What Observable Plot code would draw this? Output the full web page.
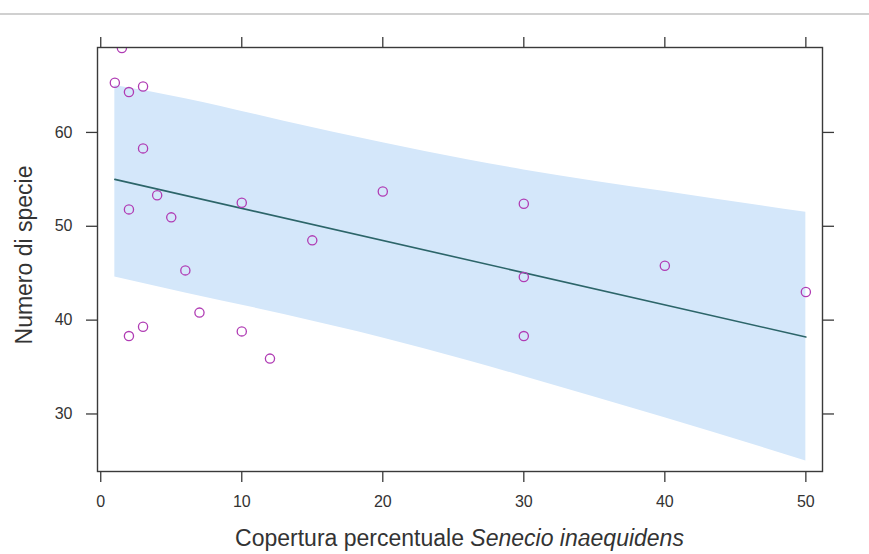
<!DOCTYPE html>
<html>
<head>
<meta charset="utf-8">
<script src="https://cdn.jsdelivr.net/npm/d3@7"></script>
<script src="https://cdn.jsdelivr.net/npm/@observablehq/plot@0.6"></script>
<style>
  html, body { margin: 0; padding: 0; background: #fff; }
  #wrap { position: relative; width: 869px; height: 554px; overflow: hidden; }
  #rule { position: absolute; left: 0; right: 0; top: 13px; height: 2px; background: #d0d0d0; }
  svg { font-family: "Liberation Sans", Arial, sans-serif; }
</style>
</head>
<body>
<div id="wrap"><div id="rule"></div></div>
<script>
// Observed points: percent cover of Senecio inaequidens vs number of species
const coverX = [1, 1.5, 2, 3, 3, 2, 4, 5, 6, 7, 3, 2, 10, 10, 12, 15, 20, 30, 30, 30, 40, 50];
const speciesY = [65.3, 69.0, 64.3, 64.9, 58.3, 51.8, 53.3, 50.95, 45.3, 40.8, 39.3, 38.3, 52.5, 38.8, 35.9, 48.5, 53.7, 52.4, 44.6, 38.3, 45.8, 43.0];

// Fitted line (read at its ends)
const fitX = [1, 50];
const fitY = [55.0, 38.2];

// Shaded interval band, read at several x positions
const bandX = [1, 6, 13, 20, 26, 30, 40, 50];
const bandUpper = [65.0, 63.6, 61.2, 58.9, 57.1, 56.0, 53.7, 51.5];
const bandLower = [44.6, 42.9, 40.6, 38.1, 35.7, 34.0, 29.6, 25.0];

const xTicks = [0, 10, 20, 30, 40, 50];
const yTicks = [30, 40, 50, 60];
const xTitle = "Copertura percentuale ";
const xTitleItalic = "Senecio inaequidens";
const yTitle = "Numero di specie";

const points = coverX.map((x, i) => ({x, y: speciesY[i]}));
const fit = fitX.map((x, i) => ({x, y: fitY[i]}));
const band = bandX.map((x, i) => ({x, lo: bandLower[i], hi: bandUpper[i]}));

const W = 869, H = 554;
const mL = 97, mR = 47, mT = 47, mB = 83;
const tickFont = 16;
const ink = "#333";

const chart = Plot.plot({
  width: W,
  height: H,
  marginLeft: mL,
  marginRight: mR,
  marginTop: mT,
  marginBottom: mB,
  style: {fontFamily: "'Liberation Sans', Arial, sans-serif", background: "transparent", color: ink},
  x: {domain: [-0.23, 51.18]},
  y: {domain: [23.87, 69.05]},
  marks: [
    Plot.areaY(band, {x: "x", y1: "lo", y2: "hi", fill: "#d4e7fa", fillOpacity: 1, curve: "monotone-x"}),
    Plot.line(fit, {x: "x", y: "y", stroke: "#2c6569", strokeWidth: 1.6}),
    Plot.dot(points, {x: "x", y: "y", r: 4.6, stroke: "#b03cb4", strokeWidth: 1.3, fill: "none", clip: true}),
    Plot.frame({stroke: "#3a3a3a", strokeWidth: 1.4}),
    Plot.axisX(xTicks, {anchor: "bottom", tickSize: 11, tickPadding: 13, fontSize: tickFont, label: null, stroke: "#3a3a3a", strokeWidth: 1.3}),
    Plot.axisX(xTicks, {anchor: "top", tickSize: 11, tickFormat: () => "", label: null, stroke: "#3a3a3a", strokeWidth: 1.3}),
    Plot.axisY(yTicks, {anchor: "left", tickSize: 11, tickPadding: 14, fontSize: tickFont, label: null, stroke: "#3a3a3a", strokeWidth: 1.3}),
    Plot.axisY(yTicks, {anchor: "right", tickSize: 11, tickFormat: () => "", label: null, stroke: "#3a3a3a", strokeWidth: 1.3})
  ]
});

chart.style.position = "absolute";
chart.style.left = "0px";
chart.style.top = "0px";
document.getElementById("wrap").appendChild(chart);

const svg = d3.select(chart);
const cx = mL + (W - mL - mR) / 2;
const cy = mT + (H - mT - mB) / 2 - 4;

const xt = svg.append("text")
  .attr("x", cx)
  .attr("y", 546)
  .attr("text-anchor", "middle")
  .attr("fill", ink)
  .style("font-size", "23px")
  .style("font-family", "'Liberation Sans', Arial, sans-serif");
xt.append("tspan").text(xTitle);
xt.append("tspan").attr("font-style", "italic").text(xTitleItalic);

svg.append("text")
  .attr("transform", `translate(32,${cy}) rotate(-90)`)
  .attr("text-anchor", "middle")
  .attr("fill", ink)
  .style("font-size", "23px")
  .style("font-family", "'Liberation Sans', Arial, sans-serif")
  .text(yTitle);
</script>
</body>
</html>
